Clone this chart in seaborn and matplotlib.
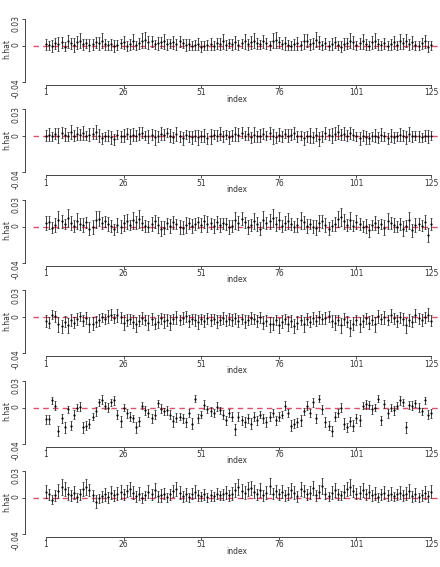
import numpy as np
import pandas as pd
import matplotlib
matplotlib.use('Agg')
import matplotlib.pyplot as plt
import seaborn as sns

# 横轴
index = np.arange(1, 126)
xticks = [1, 26, 51, 76, 101, 125]
yticks = [-0.04, 0, 0.03]
yticklabels = ['-0.04', '0', '0.03']

# 各面板估计值 h.hat (单位 0.001) 和区间半宽
h1 = [2, 1, 0, 3, 2, 4, -1, 5, 3, 1,
      4, 6, 2, 3, 1, 2, 4, 3, 6, 2,
      1, 2, 0, 1, 3, 4, 0, 2, 5, 1,
      3, 6, 7, 4, 5, 2, 3, 4, 5, 2,
      3, 4, 2, 5, 3, 1, 2, 0, 1, 2,
      -1, 0, 1, 2, 0, 3, 2, 5, 1, 3,
      2, 4, 1, 3, 5, 2, 4, 6, 3, 2,
      5, 3, 1, 6, 7, 4, 2, 3, 1, 0,
      2, 3, 1, 5, 6, 2, 3, 7, 4, 1,
      3, 0, 2, 4, 1, -1, 2, 3, 6, 4,
      1, 3, 5, 2, 0, 4, 6, 2, 1, 3,
      0, 2, 4, 1, 5, 3, 6, 2, 4, 1,
      0, 3, 5, -1, 1]
w1 = [6, 5, 7, 6, 8, 6, 5, 7, 6, 8,
      7, 8, 6, 5, 7, 6, 6, 7, 8, 6,
      5, 6, 7, 6, 5, 7, 6, 6, 8, 5,
      6, 8, 9, 7, 6, 5, 7, 6, 8, 6,
      5, 7, 6, 6, 5, 7, 6, 5, 6, 7,
      6, 5, 6, 7, 5, 6, 7, 8, 6, 5,
      6, 7, 6, 5, 8, 6, 7, 8, 6, 5,
      7, 6, 5, 8, 9, 6, 5, 7, 6, 5,
      6, 7, 5, 8, 7, 6, 6, 8, 7, 5,
      6, 5, 7, 6, 5, 6, 7, 6, 8, 7,
      5, 6, 8, 6, 5, 7, 8, 6, 5, 6,
      5, 6, 7, 5, 8, 6, 7, 6, 7, 5,
      5, 6, 7, 6, 5]

h2 = [1, 2, 0, 3, 1, 4, 2, 0, 5, 1,
      3, 2, 4, 1, 2, 3, 5, 1, -2, 0,
      1, -1, -3, 2, 0, 1, 3, 0, 2, 1,
      3, 4, 1, 0, 2, -1, 0, 3, 2, 4,
      1, -1, 3, 0, -2, 2, 0, -1, 1, -1,
      0, 1, -2, 0, 2, 1, 3, 0, 2, -1,
      1, 3, 2, 4, 1, 3, -1, 2, 0, 1,
      3, 1, 4, 0, -1, 2, 0, 3, 1, 2,
      4, 0, 1, -2, 0, 1, -1, 2, -3, 0,
      4, 2, 1, 3, 5, 2, 3, 1, 4, 2,
      0, -2, 1, -1, -2, 0, 1, -1, 2, 0,
      -2, 1, -1, 0, 2, 1, -1, 3, 0, 1,
      0, -1, 1, 0, 1]
w2 = [6, 7, 5, 6, 8, 6, 7, 5, 8, 6,
      7, 6, 8, 5, 7, 6, 8, 7, 6, 5,
      6, 7, 6, 5, 6, 7, 6, 8, 7, 6,
      7, 6, 5, 7, 6, 8, 6, 7, 6, 5,
      7, 6, 8, 6, 7, 5, 6, 7, 6, 8,
      6, 7, 6, 8, 5, 6, 7, 6, 5, 7,
      6, 8, 7, 6, 5, 7, 6, 8, 6, 7,
      6, 5, 7, 8, 6, 7, 6, 5, 7, 6,
      7, 6, 5, 7, 6, 8, 6, 7, 8, 6,
      7, 6, 8, 7, 8, 6, 7, 6, 7, 6,
      5, 7, 6, 7, 6, 5, 7, 6, 7, 5,
      6, 7, 6, 5, 7, 6, 7, 8, 6, 5,
      6, 5, 6, 7, 5]

h3 = [4, 5, -1, 2, 8, 6, 3, 10, 4, 1,
      6, 3, 2, 5, -2, 0, 8, 9, 4, 6,
      3, 1, -3, 2, 0, 4, 6, 2, 7, 5,
      9, 4, 1, 0, 3, 6, 2, -2, -1, 4,
      1, 5, 3, 0, -1, 2, 4, 1, 3, 5,
      2, 6, 3, 4, 1, 5, 2, 4, 3, 0,
      1, 7, 4, 9, 5, 0, 2, 6, 3, -2,
      8, 4, 6, 10, 3, 7, 1, 4, 6, 3,
      0, 2, 7, 5, 1, 3, 0, -1, 4, 6,
      2, -2, 1, 3, 9, 11, 6, 2, 7, 1,
      5, 3, 0, 1, -4, 2, 4, 0, 3, -1,
      6, 4, 2, 0, 3, -2, 1, 7, -4, 2,
      3, 1, 5, -9, 3]
w3 = [8, 7, 6, 8, 9, 7, 6, 10, 8, 7,
      9, 7, 8, 6, 7, 8, 9, 8, 7, 6,
      8, 7, 6, 8, 7, 9, 8, 6, 9, 7,
      10, 8, 7, 6, 8, 7, 9, 8, 7, 6,
      8, 7, 6, 8, 7, 9, 6, 8, 7, 6,
      8, 7, 9, 6, 8, 7, 8, 6, 7, 8,
      7, 9, 8, 7, 6, 8, 7, 9, 8, 7,
      9, 7, 8, 10, 8, 9, 7, 8, 9, 7,
      6, 8, 9, 7, 8, 6, 7, 8, 9, 7,
      8, 7, 6, 8, 9, 10, 8, 7, 9, 6,
      8, 7, 6, 8, 7, 6, 8, 7, 6, 8,
      9, 7, 8, 6, 7, 8, 6, 9, 7, 8,
      7, 6, 8, 8, 7]

h4 = [-4, -6, 3, 1, -8, -10, -5, -9, -3, -6,
      -2, 1, -4, -1, -8, -7, -5, -3, 0, -2,
      1, 3, -1, 2, 0, -6, -3, -2, -5, -8,
      -4, -1, -3, -6, -2, -7, -5, -1, -4, -3,
      -6, -2, 0, -3, -1, 1, -4, -2, -3, -5,
      -2, -4, -1, -3, -2, -5, -3, -1, -4, -2,
      -3, -1, -4, -2, -5, -3, -1, -2, -4, 0,
      -6, -4, -8, -7, -3, -9, -5, -2, -7, -4,
      -10, -6, -3, -8, -2, -5, -1, -4, 0, -2,
      -1, 1, -4, -6, -3, -9, -2, -5, -12, -7,
      -3, -8, -4, -1, -6, -3, -8, 1, -2, 0,
      -3, 2, -1, -4, 0, -2, -9, -3, -5, 2,
      -1, -3, 0, 3, -4]
w4 = [7, 6, 5, 6, 8, 7, 6, 8, 7, 6,
      7, 5, 6, 7, 8, 7, 6, 7, 5, 6,
      7, 6, 5, 7, 6, 8, 7, 6, 7, 8,
      6, 7, 6, 8, 7, 6, 7, 6, 8, 7,
      8, 6, 7, 6, 7, 6, 7, 6, 7, 8,
      6, 7, 6, 7, 6, 7, 6, 7, 6, 7,
      7, 6, 7, 6, 7, 6, 7, 6, 7, 6,
      7, 6, 8, 7, 6, 8, 7, 6, 8, 7,
      8, 7, 6, 8, 7, 6, 7, 6, 7, 6,
      7, 6, 7, 8, 6, 8, 7, 6, 9, 7,
      6, 8, 7, 6, 7, 6, 8, 7, 6, 7,
      6, 7, 6, 7, 6, 7, 8, 7, 6, 7,
      6, 7, 6, 7, 6]

h5 = [-13, -13, 8, 2, -26, -12, -22, -2, -20, -8,
      0, 1, -22, -20, -18, -10, -4, 6, 9, 2,
      0, 6, 8, -8, -15, 0, -6, -10, -12, -22,
      -15, 2, -3, -6, -12, -8, 5, -1, -4, -3,
      -8, -15, -11, -10, -12, -16, -6, -18, 10, -12,
      -8, 3, -2, -4, -6, 1, -3, -8, -14, -6,
      -10, -24, -10, -14, -16, -12, -18, -10, -14, -8,
      -12, -16, -10, -6, -14, -10, -8, 2, -6, -20,
      -18, -16, -14, -4, 2, -6, 6, -12, 10, -2,
      -16, -20, -26, -10, -6, 0, -18, -22, -15, -20,
      -12, -14, 2, 4, 3, -2, 0, 10, -14, 4,
      -6, 0, -3, 2, 8, 6, -22, 3, 2, 5,
      0, -4, 8, -8, -6]
w5 = [5, 5, 4, 5, 6, 5, 6, 4, 5, 5,
      4, 5, 6, 5, 5, 4, 5, 4, 5, 4,
      5, 4, 5, 5, 6, 4, 5, 5, 4, 6,
      5, 4, 5, 4, 5, 5, 4, 5, 4, 5,
      5, 6, 5, 4, 5, 5, 4, 6, 4, 5,
      4, 5, 4, 5, 4, 5, 4, 5, 5, 4,
      5, 6, 5, 5, 6, 5, 6, 5, 5, 4,
      5, 6, 5, 4, 5, 5, 4, 5, 4, 6,
      5, 5, 6, 4, 5, 4, 5, 5, 4, 5,
      6, 5, 6, 5, 4, 5, 6, 5, 5, 6,
      5, 6, 4, 5, 4, 5, 4, 4, 5, 4,
      5, 4, 5, 4, 5, 4, 6, 4, 5, 4,
      5, 4, 4, 5, 5]

h6 = [7, 4, -2, 3, 8, 12, 10, 5, 3, 6,
      1, 4, 10, 12, 9, 3, -4, 0, 2, 4,
      1, 6, 3, 5, 7, 4, 8, 10, 6, 2,
      5, 0, 3, 7, 4, 9, 2, 3, 5, 1,
      4, 8, 10, 6, 2, 4, 1, 5, 7, 3,
      2, 4, 1, 3, 2, 5, 3, 4, 6, 3,
      5, 9, 12, 8, 6, 10, 11, 7, 4, 9,
      3, 6, 13, 5, 8, 4, 7, 3, 5, 9,
      6, 2, 10, 8, 4, 6, 11, 3, 7, 13,
      5, 2, 6, 9, 4, 3, 7, 10, 12, 8,
      5, 6, 9, 4, 7, 3, 5, 1, 4, 6,
      3, 5, 2, 4, 6, 3, 5, 8, 2, 4,
      1, 3, 6, 2, 7]
w6 = [7, 6, 5, 6, 8, 9, 8, 7, 6, 7,
      5, 6, 8, 9, 7, 6, 7, 5, 6, 7,
      6, 7, 6, 7, 8, 6, 7, 8, 7, 6,
      7, 6, 5, 7, 6, 8, 6, 7, 6, 5,
      6, 7, 8, 7, 6, 7, 5, 6, 7, 6,
      5, 6, 5, 6, 5, 6, 5, 6, 7, 6,
      7, 8, 9, 8, 7, 8, 8, 7, 6, 8,
      6, 7, 9, 6, 7, 6, 7, 6, 7, 8,
      7, 6, 8, 7, 6, 7, 8, 6, 7, 9,
      6, 5, 7, 8, 6, 5, 7, 8, 9, 7,
      6, 7, 8, 6, 7, 6, 7, 5, 6, 7,
      6, 7, 5, 6, 7, 6, 7, 8, 6, 7,
      5, 6, 7, 6, 7]

panels = [(h1, w1), (h2, w2), (h3, w3), (h4, w4), (h5, w5), (h6, w6)]

sns.set_style('ticks')
plt.rcParams['font.family'] = ['DejaVu Sans']

W, H = 440, 567
fig = plt.figure(figsize=(W / 100, H / 100), dpi=100)
left, right = 33, 440

for k, (h, w) in enumerate(panels):
    # 每个面板 0 线的像素位置
    zero = 46 + 90.4 * k
    top, bottom = zero - 32, zero + 39
    ax = fig.add_axes([left / W, 1 - bottom / H, (right - left) / W, (bottom - top) / H])

    df = pd.DataFrame({'index': index,
                       'h.hat': np.array(h) / 1000,
                       'hw': np.array(w) / 1000})

    ax.axhline(0, color='#e0506a', lw=1, dashes=(4, 3), zorder=1)
    ax.errorbar(df['index'], df['h.hat'], yerr=df['hw'], fmt='none',
                ecolor='#222222', elinewidth=0.6, capsize=0.8, capthick=0.5, zorder=2)
    sns.scatterplot(data=df, x='index', y='h.hat', ax=ax, s=2.5, color='black',
                    linewidth=0, zorder=3)

    ax.set_xlim(1 - 13 / 3.105, 125 + 9 / 3.105)
    ax.set_ylim(-0.04 - 3 / 900, 0.03 + 5 / 900)
    ax.set_xticks(xticks)
    ax.set_xticklabels([str(t) for t in xticks])
    ax.set_yticks(yticks)
    ax.set_yticklabels(yticklabels, rotation=90, va='center')

    for s in ['top', 'right']:
        ax.spines[s].set_visible(False)
    ax.spines['left'].set_position(('outward', 6))
    ax.spines['left'].set_bounds(-0.04, 0.03)
    ax.spines['bottom'].set_bounds(1, 125)
    for s in ['left', 'bottom']:
        ax.spines[s].set_color('#444444')
        ax.spines[s].set_linewidth(0.7)

    ax.tick_params(direction='out', length=2.5, width=0.6, labelsize=5.5,
                   colors='#333333')
    ax.tick_params(axis='x', pad=0)
    ax.tick_params(axis='y', pad=0.5, labelrotation=90)
    ax.set_xlabel('index', fontsize=5.5, labelpad=-2, color='#333333')
    ax.set_ylabel('h.hat', fontsize=5.5, color='#333333')
    ax.yaxis.set_label_coords((11 - left) / (right - left), 0.5)

fig.savefig('out.png', dpi=100)
